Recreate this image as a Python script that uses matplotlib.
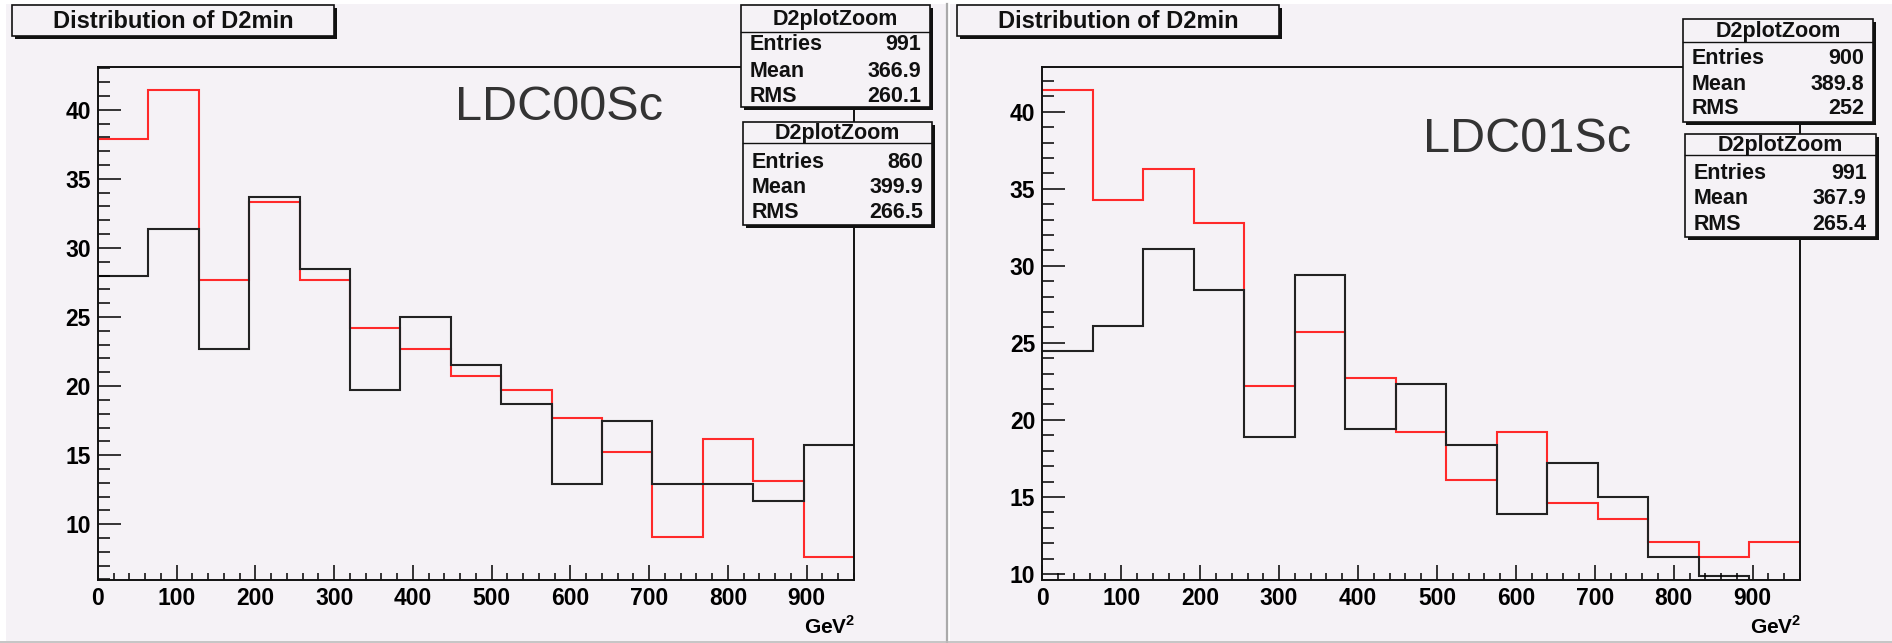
import numpy as np
import matplotlib
matplotlib.use("Agg")
import matplotlib.pyplot as plt
from matplotlib.patches import Rectangle
from matplotlib.lines import Line2D
from matplotlib.ticker import MultipleLocator

plt.rcParams["font.family"] = ["Liberation Sans", "DejaVu Sans"]
plt.rcParams["mathtext.fontset"] = "custom"
plt.rcParams["mathtext.bf"] = "Liberation Sans:bold"
plt.rcParams["mathtext.rm"] = "Liberation Sans"

W, H = 1892, 643
PAD = "#f5f2f6"

# D2min histograms, 15 bins over 0..960 GeV^2
bin_edges = np.linspace(0, 960, 16)

ldc00_black = [28.0, 31.4, 22.7, 33.7, 28.5, 19.7, 25.0, 21.5, 18.7, 12.9, 17.5, 12.9, 12.9, 11.7, 15.7]
ldc00_red = [37.9, 41.4, 27.7, 33.3, 27.7, 24.2, 22.7, 20.7, 19.7, 17.7, 15.2, 9.1, 16.2, 13.1, 7.6]
ldc01_black = [24.5, 26.1, 31.1, 28.4, 18.9, 29.4, 19.4, 22.3, 18.4, 13.9, 17.2, 15.0, 11.1, 9.9, 9.2]
ldc01_red = [41.4, 34.3, 36.3, 32.8, 22.2, 25.7, 22.7, 19.2, 16.1, 19.2, 14.6, 13.6, 12.1, 11.1, 12.1]

stat_labels = ["Entries", "Mean", "RMS"]
ldc00_stats = [["991", "366.9", "260.1"], ["860", "399.9", "266.5"]]
ldc01_stats = [["900", "389.8", "252"], ["991", "367.9", "265.4"]]

fig = plt.figure(figsize=(W / 100, H / 100), dpi=100)
fig.patch.set_facecolor("white")


def fx(x):
    return x / W


def fy(y):
    return 1 - y / H


def rect(x0, y0, x1, y1, **kw):
    r = Rectangle((fx(x0), fy(y1)), (x1 - x0) / W, (y1 - y0) / H,
                  transform=fig.transFigure, **kw)
    fig.add_artist(r)
    return r


def shadow_box(x0, y0, x1, y1):
    rect(x0 + 3, y0 + 3, x1 + 3, y1 + 3, facecolor="#111111", edgecolor="none", zorder=4)
    rect(x0, y0, x1, y1, facecolor=PAD, edgecolor="#111111", lw=1.2, zorder=5)


def stats_box(x0, y0, x1, y1, yline, rows, values):
    shadow_box(x0, y0, x1, y1)
    fig.add_artist(Line2D([fx(x0), fx(x1)], [fy(yline), fy(yline)],
                          transform=fig.transFigure, color="#111111", lw=1.0, zorder=6))
    fig.text(fx((x0 + x1) / 2), fy((y0 + yline) / 2 + 1), "D2plotZoom", ha="center", va="center",
             fontsize=15.5, fontweight="bold", color="#111111", zorder=7)
    for yr, lab, val in zip(rows, stat_labels, values):
        fig.text(fx(x0 + 9), fy(yr), lab, ha="left", va="center", fontsize=15.5,
                 fontweight="bold", color="#111111", zorder=7)
        fig.text(fx(x1 - 9), fy(yr), val, ha="right", va="center", fontsize=15.5,
                 fontweight="bold", color="#111111", zorder=7)


def panel(ax, black, red, ylim):
    ax.set_facecolor(PAD)
    ax.stairs(red, bin_edges, baseline=None, color="#ff2a2a", lw=1.5)
    ax.stairs(black, bin_edges, baseline=None, color="#222222", lw=1.5)
    ax.set_xlim(0, 960)
    ax.set_ylim(*ylim)
    ax.xaxis.set_major_locator(MultipleLocator(100))
    ax.xaxis.set_minor_locator(MultipleLocator(20))
    ax.yaxis.set_major_locator(MultipleLocator(5))
    ax.yaxis.set_minor_locator(MultipleLocator(1))
    ax.tick_params(axis="y", which="major", direction="in", length=16.5, width=1.1, pad=5,
                   labelsize=16.5)
    ax.tick_params(axis="y", which="minor", direction="in", length=8.5, width=1.1)
    ax.tick_params(axis="x", which="major", direction="in", length=10.8, width=1.1, pad=5,
                   labelsize=16.5)
    ax.tick_params(axis="x", which="minor", direction="in", length=5, width=1.1)
    for lab in ax.get_xticklabels() + ax.get_yticklabels():
        lab.set_fontweight("bold")
    for sp in ax.spines.values():
        sp.set_linewidth(1.4)
        sp.set_color("#111111")


# pad backgrounds and separators
rect(6, 4, 946, 641, facecolor=PAD, edgecolor="none", zorder=-5)
rect(950, 4, W, 641, facecolor=PAD, edgecolor="none", zorder=-5)
fig.add_artist(Line2D([fx(946.5), fx(946.5)], [fy(4), fy(H)], transform=fig.transFigure,
                      color="#aaaaaa", lw=1.6, zorder=-4))
fig.add_artist(Line2D([0, 1], [fy(641.8), fy(641.8)], transform=fig.transFigure,
                      color="#bbbbbb", lw=1.2, zorder=-4))

top, bottom = 66.7, 580
ax1 = fig.add_axes([fx(97.9), fy(bottom), (854 - 97.9) / W, (bottom - top) / H])
ax2 = fig.add_axes([fx(1042.3), fy(bottom), (1800 - 1042.3) / W, (bottom - top) / H])
panel(ax1, ldc00_black, ldc00_red, (5.96, 43.12))
panel(ax2, ldc01_black, ldc01_red, (9.61, 42.92))

# x-axis unit labels
unit = r"GeV$^{\mathbf{2}}$"
fig.text(fx(855), fy(615), unit, ha="right", va="top", fontsize=15, fontweight="bold")
fig.text(fx(1801), fy(615), unit, ha="right", va="top", fontsize=15, fontweight="bold")

# detector model labels
fig.text(fx(455), fy(120), "LDC00Sc", ha="left", va="baseline", fontsize=35, color="#333333")
fig.text(fx(1423), fy(151.7), "LDC01Sc", ha="left", va="baseline", fontsize=35, color="#333333")

# title boxes
for x0, x1 in [(11.7, 334), (956.7, 1279)]:
    shadow_box(x0, 5, x1, 36)
    fig.text(fx((x0 + x1) / 2), fy(21), "Distribution of D2min", ha="center", va="center",
             fontsize=17, fontweight="bold", color="#111111", zorder=7)

# statistics boxes
stats_box(740.7, 5, 930, 107, 31.7, [45, 71.7, 96.7], ldc00_stats[0])
stats_box(742.7, 122.3, 932.3, 225, 143.3, [162.3, 187.3, 212.3], ldc00_stats[1])
stats_box(1682.7, 19, 1873.3, 122.3, 41.7, [59, 84.3, 109], ldc01_stats[0])
stats_box(1685, 134.3, 1875.7, 237.3, 155, [173.3, 199, 224], ldc01_stats[1])

fig.savefig("out.png", dpi=100, facecolor=fig.get_facecolor())
